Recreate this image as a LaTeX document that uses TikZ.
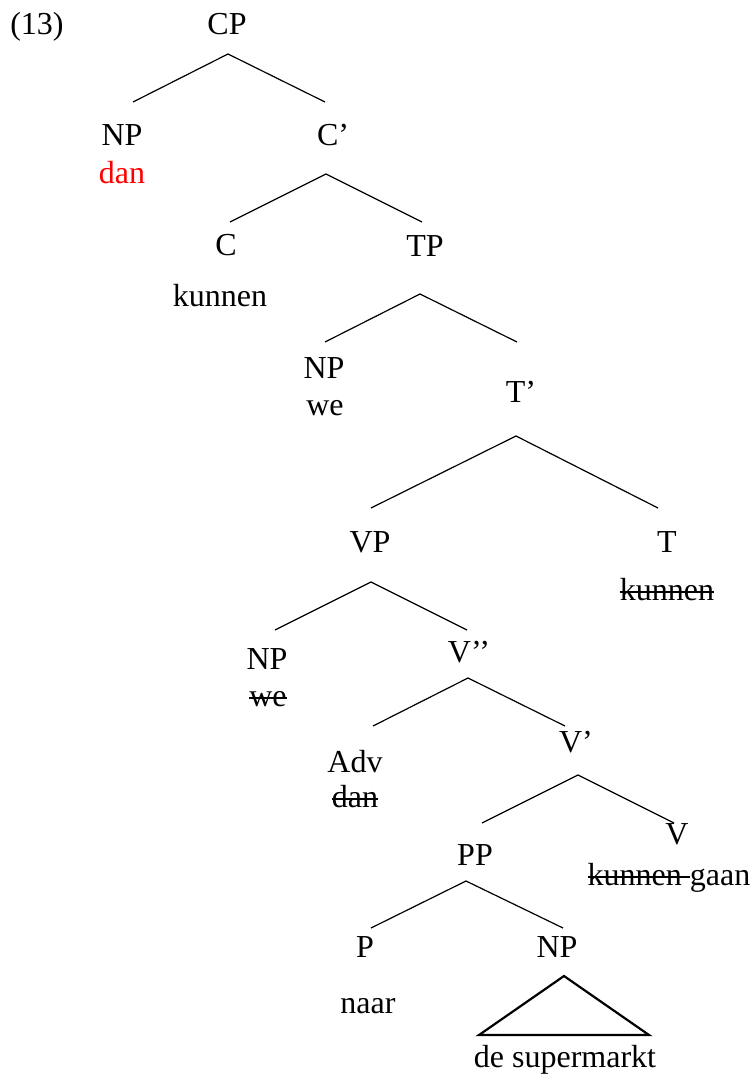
\documentclass[tikz,border=0pt]{standalone}
\usepackage{fontspec}
\setmainfont{Liberation Serif}
\newsavebox\strikebox
\newcommand{\struck}[1]{\sbox\strikebox{#1}\rlap{\rule[0.23em]{\wd\strikebox}{1.5pt}}\usebox\strikebox}
\tikzset{
  lbl/.style={anchor=base, inner sep=0pt, font=\fontsize{32}{38}\selectfont},
  branch/.style={line width=1.2pt},
  roof/.style={line width=2.2pt},
}

\begin{document}
\begin{tikzpicture}[x=1pt,y=1pt]
	%%%%% START %%%%%
	\useasboundingbox (0,0) rectangle (752,-1075);

	\node[lbl] (ex) at (37,-35) {(13)};

	\node[lbl] (cp) at (227,-35) {CP};
	\node[lbl] (npdan) at (122,-146) {NP};
	\node[lbl, text=red] (dan) at (122,-184) {dan};
	\node[lbl] (cbar) at (333,-146) {C’};
	\node[lbl] (c) at (226,-255) {C};
	\node[lbl] (kunnenc) at (220,-306) {kunnen};
	\node[lbl] (tp) at (425,-256) {TP};
	\node[lbl] (npwe) at (324,-378) {NP};
	\node[lbl] (we) at (325,-415) {we};
	\node[lbl] (tbar) at (521,-402) {T’};
	\node[lbl] (vp) at (370,-552) {VP};
	\node[lbl] (t) at (667,-552) {T};
	\node[lbl] (kunnent) at (667,-600) {\struck{kunnen}};
	\node[lbl] (npwetr) at (267,-669) {NP};
	\node[lbl] (wetr) at (268,-706) {\struck{we}};
	\node[lbl] (vbarbar) at (469,-662) {V’’};
	\node[lbl] (adv) at (355,-772) {Adv};
	\node[lbl] (dantr) at (355,-807) {\struck{dan}};
	\node[lbl] (vbar) at (576,-752) {V’};
	\node[lbl] (v) at (677,-844) {V};
	\node[lbl] (gaan) at (669,-885) {\struck{kunnen\ }gaan};
	\node[lbl] (pp) at (475,-865) {PP};
	\node[lbl] (p) at (365,-957) {P};
	\node[lbl] (naar) at (368,-1013) {naar};
	\node[lbl] (npsm) at (557,-957) {NP};
	\node[lbl] (supermarkt) at (565,-1067) {de supermarkt};

	% branches
	\draw[branch] ([shift={(11,44)}]npdan.base) -- ([shift={(1,-19)}]cp.base) -- ([shift={(-8,44)}]cbar.base);
	\draw[branch] ([shift={(4,33)}]c.base) -- ([shift={(-7,-28)}]cbar.base) -- ([shift={(-3,34)}]tp.base);
	\draw[branch] ([shift={(1,36)}]npwe.base) -- ([shift={(-5,-38)}]tp.base) -- ([shift={(-4,60)}]tbar.base);
	\draw[branch] ([shift={(1,44)}]vp.base) -- ([shift={(-5,-34)}]tbar.base) -- ([shift={(-9,44)}]t.base);
	\draw[branch] ([shift={(8,39)}]npwetr.base) -- ([shift={(1,-30)}]vp.base) -- ([shift={(-2,32)}]vbarbar.base);
	\draw[branch] ([shift={(18,46)}]adv.base) -- ([shift={(-1,-16)}]vbarbar.base) -- ([shift={(-11,26)}]vbar.base);
	\draw[branch] ([shift={(7,42)}]pp.base) -- ([shift={(2,-23)}]vbar.base) -- ([shift={(-3,21)}]v.base);
	\draw[branch] ([shift={(6,29)}]p.base) -- ([shift={(-9,-16)}]pp.base) -- ([shift={(6,29)}]npsm.base);

	% roof
	\draw[roof] ([shift={(7,-19)}]npsm.base) -- ([shift={(-86,32)}]supermarkt.base) -- ([shift={(84,32)}]supermarkt.base) -- cycle;
	%%%%% END %%%%%
\end{tikzpicture}
\end{document}
